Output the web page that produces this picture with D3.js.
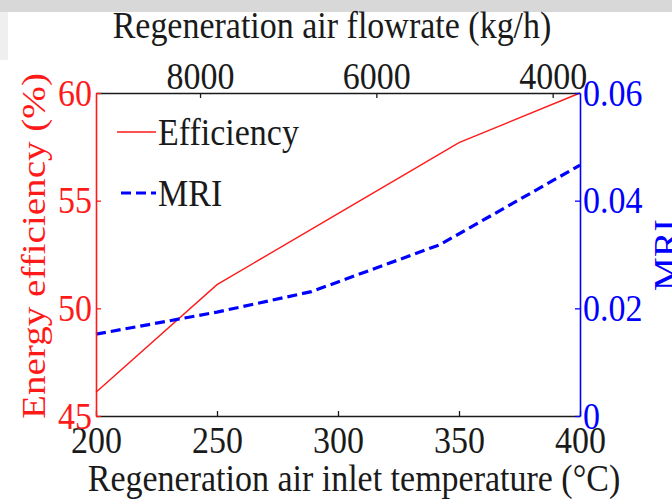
<!DOCTYPE html>
<html>
<head>
<meta charset="utf-8">
<script src="https://cdn.jsdelivr.net/npm/d3@7"></script>
<style>
  body { margin: 0; background: #fff; }
  svg { display: block; }
  text { font-family: "Liberation Serif", "Times New Roman", serif; }
</style>
</head>
<body>
<svg id="chart" width="672" height="503"></svg>
<script>
// Efficiency vs. regeneration inlet temperature
const temperatures = [200, 250, 300, 350, 400];
const efficiency = [46.1, 51.1, 54.4, 57.7, 60.0];

// Moisture removal index, sampled at its own temperatures
const mriTemperatures = [200, 250, 289, 342, 400];
const mri = [0.0152, 0.0193, 0.0231, 0.0318, 0.0466];

// Tick labels
const temperatureTicks = [200, 250, 300, 350, 400];
const efficiencyTicks = [45, 50, 55, 60];
const mriTicks = [0, 0.02, 0.04, 0.06];
const flowrateTicks = [8000, 6000, 4000];
const flowrateRange = [9180, 3690];

const svg = d3.select("#chart");
const W = 672, H = 503;
const plot = { left: 96, right: 580, top: 93, bottom: 416 };
const FONT = 34;
const TALL = 1.12;               // glyphs are set slightly taller than wide
const RED = "#ff1a1a", BLUE = "#0000ff", INK = "#1a1a1a";

// faint grey band along the top edge
svg.append("rect").attr("x", 0).attr("y", 0).attr("width", W).attr("height", 12).attr("fill", "#d8d8d8");
svg.append("rect").attr("x", 0).attr("y", 12).attr("width", 8).attr("height", 48).attr("fill", "#efefef");

const x = d3.scaleLinear().domain([200, 400]).range([plot.left, plot.right]);
const xTop = d3.scaleLinear().domain(flowrateRange).range([plot.left, plot.right]);
const yL = d3.scaleLinear().domain([45, 60]).range([plot.bottom, plot.top]);
const yR = d3.scaleLinear().domain([0, 0.06]).range([plot.bottom, plot.top]);

// series
const effLine = d3.line().x((d, i) => x(temperatures[i])).y(d => yL(d));
svg.append("path").datum(efficiency)
  .attr("d", effLine).attr("fill", "none")
  .attr("stroke", RED).attr("stroke-width", 1.4);

const mriLine = d3.line().x((d, i) => x(mriTemperatures[i])).y(d => yR(d));
svg.append("path").datum(mri)
  .attr("d", mriLine).attr("fill", "none")
  .attr("stroke", BLUE).attr("stroke-width", 3.2)
  .attr("stroke-dasharray", "10,5");

function styleAxis(g, color) {
  g.select(".domain").attr("stroke", color).attr("stroke-width", 1.6);
  g.selectAll(".tick line").attr("stroke", color).attr("stroke-width", 1.3);
  g.selectAll(".tick text").attr("fill", color)
    .attr("transform", `scale(1,${TALL})`)
    .style("font-family", '"Liberation Serif", "Times New Roman", serif')
    .style("font-size", FONT + "px");
}

// bottom: temperature
const gB = svg.append("g").attr("transform", `translate(0,${plot.bottom})`)
  .call(d3.axisBottom(x).tickValues(temperatureTicks).tickSizeInner(-5).tickSizeOuter(0).tickPadding(9));
styleAxis(gB, INK);

// top: flowrate
const gT = svg.append("g").attr("transform", `translate(0,${plot.top})`)
  .call(d3.axisTop(xTop).tickValues(flowrateTicks).tickFormat(d3.format("d")).tickSizeInner(-5).tickSizeOuter(0).tickPadding(4));
styleAxis(gT, INK);

// left: efficiency
const gL = svg.append("g").attr("transform", `translate(${plot.left},0)`)
  .call(d3.axisLeft(yL).tickValues(efficiencyTicks).tickSizeInner(-5).tickSizeOuter(0).tickPadding(4));
styleAxis(gL, RED);

// right: MRI
const gR = svg.append("g").attr("transform", `translate(${plot.right},0)`)
  .call(d3.axisRight(yR).tickValues(mriTicks).tickFormat(d => d === 0 ? "0" : d.toFixed(2)).tickSizeInner(-5).tickSizeOuter(0).tickPadding(3));
styleAxis(gR, BLUE);

// axis titles
function label(tx, ty, txt, color, extra) {
  return svg.append("text")
    .attr("transform", `translate(${tx},${ty}) ${extra}`)
    .attr("text-anchor", "middle")
    .attr("fill", color).style("font-size", FONT + "px")
    .text(txt);
}
label(332, 38, "Regeneration air flowrate (kg/h)", INK, `scale(1,${TALL})`);
label(354, 491, "Regeneration air inlet temperature (°C)", INK, `scale(1,${TALL})`);
label(45, 246, "Energy efficiency (%)", RED, `rotate(-90) scale(1.15,1)`);
label(677, 255, "MRI", BLUE, `rotate(-90) scale(${TALL},1)`);

// legend
const legend = [
  { label: "Efficiency", color: RED, width: 1.4, dash: null, x1: 117, y: 132 },
  { label: "MRI", color: BLUE, width: 3.2, dash: "10,5", x1: 121, y: 193 }
];
legend.forEach(item => {
  svg.append("line").attr("x1", item.x1).attr("x2", 156).attr("y1", item.y).attr("y2", item.y)
    .attr("stroke", item.color).attr("stroke-width", item.width)
    .attr("stroke-dasharray", item.dash);
  svg.append("text").attr("transform", `translate(158,${item.y + 13}) scale(1,${TALL})`)
    .attr("fill", INK).style("font-size", FONT + "px").text(item.label);
});
</script>
</body>
</html>
